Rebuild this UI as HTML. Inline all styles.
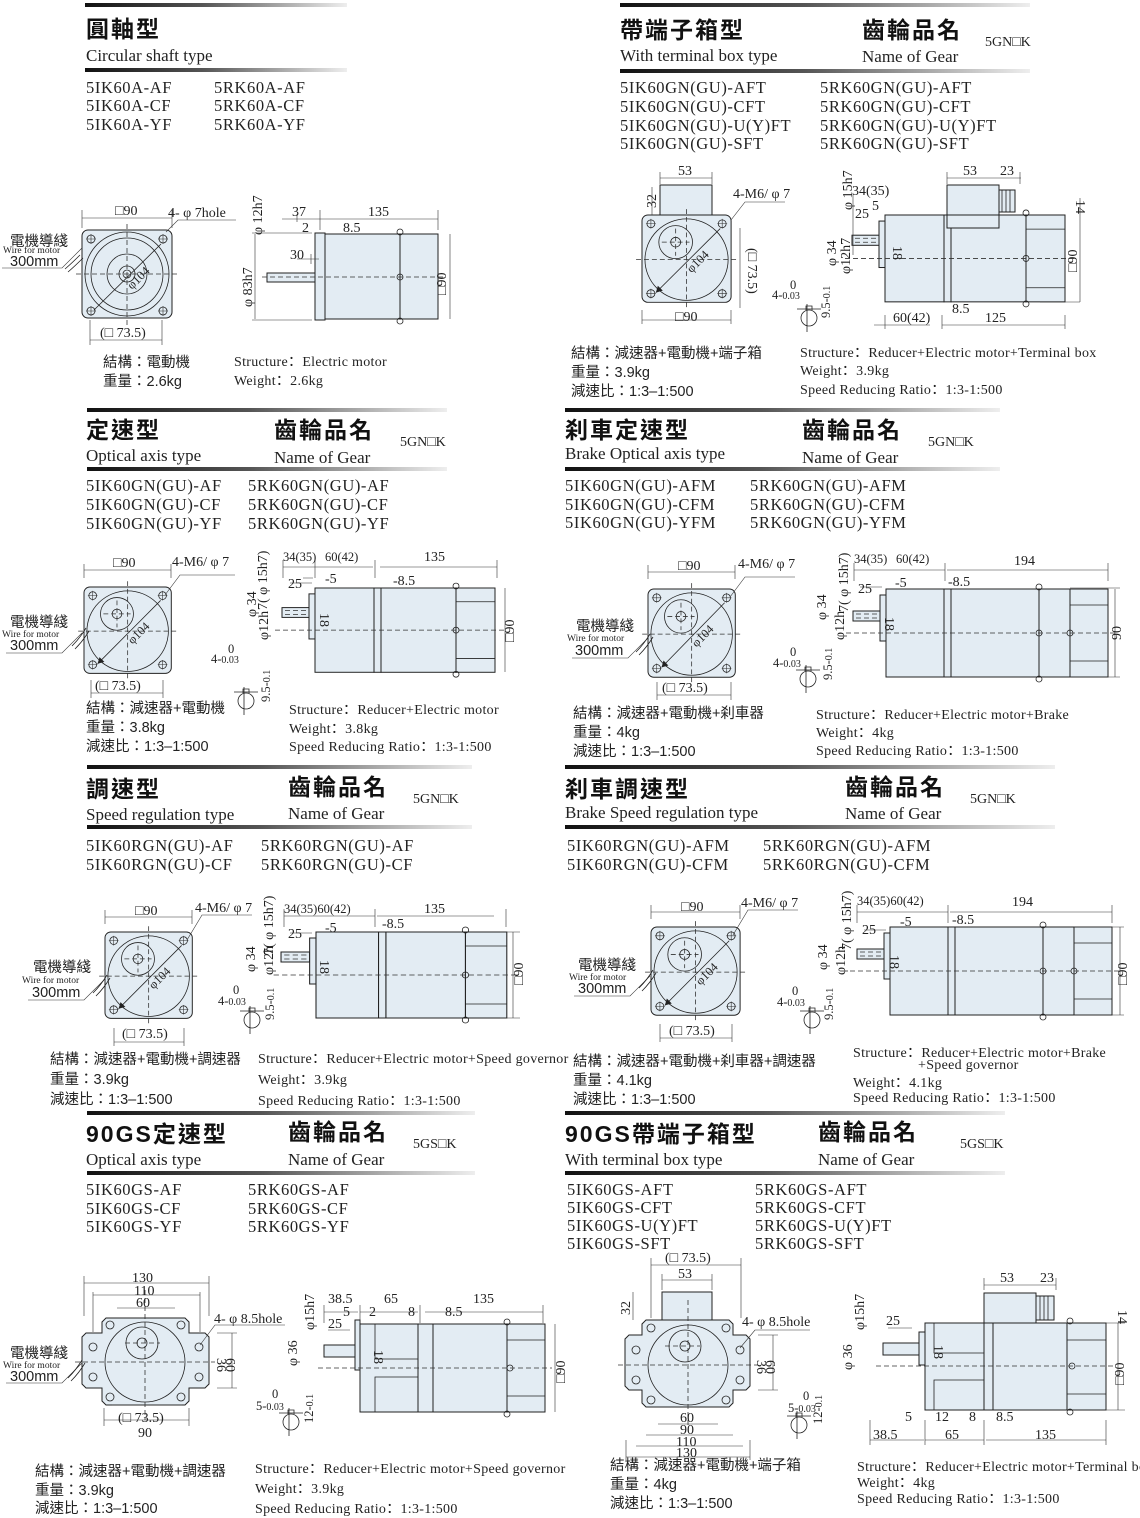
<!DOCTYPE html>
<html><head><meta charset="utf-8"><style>
html,body{margin:0;padding:0;background:#fff}
svg{display:block}
.t{font:700 23px "Liberation Sans","Noto Sans CJK TC",sans-serif;fill:#111;letter-spacing:2px}
.e{font:17px "Liberation Serif",serif;fill:#222}
.m{font:16.5px "Liberation Serif",serif;fill:#222;letter-spacing:.6px}
.c{font:14.5px "Liberation Sans","Noto Sans CJK TC",sans-serif;fill:#222}
.ee{font:14px "Liberation Serif",serif;fill:#222;letter-spacing:.3px}
.k{font:14px "Liberation Serif",serif;fill:#222}
.d{font:12.5px "Liberation Serif",serif;fill:#222}
.w{font:9.5px "Liberation Serif",serif;fill:#222}
.s{fill:#e3ecf3;stroke:#222;stroke-width:1}
.n{fill:none;stroke:#222;stroke-width:.8}
.ds{fill:none;stroke:#333;stroke-width:.8;stroke-dasharray:5 3}
.dm{fill:none;stroke:#333;stroke-width:.6}
</style></head><body>
<svg width="1140" height="1518" viewBox="0 0 1140 1518" xmlns="http://www.w3.org/2000/svg">
<defs>
<linearGradient id="g" x1="0" x2="1"><stop offset="0" stop-color="#111"/><stop offset=".45" stop-color="#555"/><stop offset="1" stop-color="#eee"/></linearGradient>
<g id="holes">
<g><circle cx="9" cy="9" r="4" class="n"/><path d="M4 9h10M9 4v10" class="dm"/></g>
<g><circle cx="81" cy="9" r="4" class="n"/><path d="M76 9h10M81 4v10" class="dm"/></g>
<g><circle cx="9" cy="81" r="4" class="n"/><path d="M4 81h10M9 76v10" class="dm"/></g>
<g><circle cx="81" cy="81" r="4" class="n"/><path d="M76 81h10M81 76v10" class="dm"/></g>
</g>
<g id="fgn">
<rect x="0" y="0" width="90" height="90" rx="6" class="s"/>
<circle cx="45" cy="46" r="42" class="n"/>
<circle cx="34" cy="28" r="17" class="n"/>
<circle cx="34" cy="28" r="5" class="n"/>
<use href="#holes"/>
<path d="M-6 46H96M45 -6V96M20 28H48M34 14V42" class="ds"/>
<path d="M14 80L79 14" class="n"/><path d="M14 80l2-7 5 5z" fill="#222"/>
<text class="d" transform="translate(50,60) rotate(-45)">φ104</text>
</g>
<g id="fcs">
<rect x="0" y="0" width="90" height="88" rx="6" class="s"/>
<circle cx="45" cy="44" r="42" class="n"/>
<circle cx="45" cy="44" r="36" class="n"/>
<circle cx="45" cy="44" r="20" class="n"/>
<circle cx="45" cy="44" r="8" class="n"/><circle cx="45" cy="44" r="4" class="n"/>
<use href="#holes"/>
<path d="M-6 44H96M45 -6V96" class="ds"/>
<path d="M12 80L79 14" class="n"/>
<text class="d" transform="translate(50,60) rotate(-45)">φ104</text>
</g>
<g id="sgn">
<rect x="-33" y="20" width="27" height="10" class="s"/>
<path d="M-30 23h22M-30 27h22" class="ds"/>
<rect x="-6" y="6" width="6" height="46" class="s"/>
<rect x="0" y="0" width="59" height="86" class="s"/>
<rect x="59" y="0" width="7" height="86" class="s"/>
<rect x="66" y="0" width="75" height="86" class="s"/>
<rect x="141" y="0" width="39" height="86" class="s"/>
<path d="M141 14h39M141 72h39" class="n"/>
<circle cx="141" cy="-2" r="3" class="n"/><circle cx="141" cy="88" r="3" class="n"/><circle cx="141" cy="43" r="3" class="n"/>
<path d="M-40 43H190" class="ds"/>
</g>
<g id="sbr">
<rect x="-33" y="22" width="27" height="10" class="s"/>
<path d="M-30 25h22M-30 29h22" class="ds"/>
<rect x="-6" y="6" width="6" height="46" class="s"/>
<rect x="0" y="0" width="58" height="88" class="s"/>
<rect x="58" y="0" width="7" height="88" class="s"/>
<rect x="65" y="0" width="88" height="88" class="s"/>
<rect x="153" y="0" width="31" height="88" class="s"/>
<rect x="184" y="0" width="38" height="88" class="s"/>
<path d="M184 16h38M184 72h38" class="n"/>
<circle cx="153" cy="-2" r="3" class="n"/><circle cx="153" cy="90" r="3" class="n"/><circle cx="153" cy="44" r="3" class="n"/><circle cx="184" cy="44" r="3" class="n"/>
<path d="M-40 44H230" class="ds"/>
</g>
<g id="key"><circle cx="0" cy="0" r="8" class="n"/><path d="M-3 -8v-4h6v4M-12 -9h24M-2 -14v28" class="n"/></g>
</defs>

<rect x="85" y="3" width="262" height="4" fill="url(#g)"/>
<rect x="85" y="68" width="262" height="4" fill="url(#g)"/>
<rect x="620" y="3" width="410" height="4" fill="url(#g)"/>
<rect x="620" y="69" width="410" height="4" fill="url(#g)"/>
<rect x="87" y="408" width="360" height="4" fill="url(#g)"/>
<rect x="87" y="467" width="360" height="4" fill="url(#g)"/>
<rect x="565" y="408" width="435" height="4" fill="url(#g)"/>
<rect x="565" y="467" width="435" height="4" fill="url(#g)"/>
<rect x="87" y="765" width="385" height="4" fill="url(#g)"/>
<rect x="87" y="825" width="385" height="4" fill="url(#g)"/>
<rect x="565" y="765" width="490" height="4" fill="url(#g)"/>
<rect x="565" y="825" width="490" height="4" fill="url(#g)"/>
<rect x="87" y="1111" width="388" height="4" fill="url(#g)"/>
<rect x="87" y="1171" width="388" height="4" fill="url(#g)"/>
<rect x="565" y="1111" width="440" height="4" fill="url(#g)"/>
<rect x="565" y="1171" width="440" height="4" fill="url(#g)"/>

<!-- S1 left -->
<text class="t" x="86" y="37">圓軸型</text>
<text class="e" x="86" y="61">Circular shaft type</text>
<text class="m" x="86" y="93">5IK60A-AF</text><text class="m" x="214" y="93">5RK60A-AF</text>
<text class="m" x="86" y="111">5IK60A-CF</text><text class="m" x="214" y="111">5RK60A-CF</text>
<text class="m" x="86" y="130">5IK60A-YF</text><text class="m" x="214" y="130">5RK60A-YF</text>
<use href="#fcs" x="82" y="230"/>
<path d="M82 210v18M172 210v18M82 218h90" class="dm"/><text class="k" x="115" y="215">□90</text>
<path d="M166 232L178 220h58" class="dm"/><text class="k" x="168" y="217">4- φ 7hole</text>
<path d="M90 340h72M90 320v25M162 320v25" class="dm"/><text class="k" x="100" y="337">(□ 73.5)</text>
<text class="c" x="10" y="246">電機導綫</text><text class="w" x="3" y="253">Wire for motor</text>
<text class="c" x="10" y="266">300mm</text>
<path d="M2 268h60l20-20" class="dm"/><path d="M80 255q-8 8-15 14M83 258q-8 8-15 14" class="n"/>
<rect x="267" y="273" width="48" height="9" class="s"/>
<rect x="315" y="233" width="10" height="87" class="s"/>
<rect x="325" y="234" width="75" height="85" class="s"/>
<rect x="400" y="234" width="38" height="85" class="s"/>
<circle cx="400" cy="232" r="3" class="n"/><circle cx="400" cy="321" r="3" class="n"/><circle cx="400" cy="277" r="3" class="n"/>
<path d="M262 277H445" class="ds"/>
<path d="M282 219h38M320 210v20M438 210v20M320 219h118M297 222v-8M297 259h22M311 254v10M255 234v85M450 234v85M252 233h60M252 320h60" class="dm"/>
<text class="k" x="292" y="216">37</text><text class="k" x="368" y="216">135</text>
<text class="k" x="302" y="232">2</text><text class="k" x="343" y="232">8.5</text><text class="k" x="290" y="259">30</text>
<text class="k" transform="translate(262,235) rotate(-90)">φ 12h7</text>
<text class="k" transform="translate(252,307) rotate(-90)">φ 83h7</text>
<text class="k" transform="translate(446,295) rotate(-90)">□90</text>
<text class="c" x="103" y="367">結構：電動機</text>
<text class="c" x="103" y="386">重量：2.6kg</text>
<text class="ee" x="234" y="366">Structure：Electric motor</text>
<text class="ee" x="234" y="385">Weight：2.6kg</text>

<!-- S1 right -->
<text class="t" x="620" y="38">帶端子箱型</text>
<text class="t" x="862" y="38">齒輪品名</text>
<text class="k" x="985" y="46">5GN□K</text>
<text class="e" x="620" y="61">With terminal box type</text>
<text class="e" x="862" y="62">Name of Gear</text>
<text class="m" x="620" y="93">5IK60GN(GU)-AFT</text><text class="m" x="820" y="93">5RK60GN(GU)-AFT</text>
<text class="m" x="620" y="112">5IK60GN(GU)-CFT</text><text class="m" x="820" y="112">5RK60GN(GU)-CFT</text>
<text class="m" x="620" y="131">5IK60GN(GU)-U(Y)FT</text><text class="m" x="820" y="131">5RK60GN(GU)-U(Y)FT</text>
<text class="m" x="620" y="149">5IK60GN(GU)-SFT</text><text class="m" x="820" y="149">5RK60GN(GU)-SFT</text>
<rect x="660" y="185" width="52" height="30" class="s"/>
<use href="#fgn" transform="translate(642,215) scale(0.99,0.97)"/>
<path d="M660 178h52M660 172v12M712 172v12M642 320h89M642 310v14M731 310v14M740 228v80M652 187v28" class="dm"/>
<text class="k" x="678" y="175">53</text><text class="k" x="675" y="321">□90</text>
<text class="k" transform="translate(656,208) rotate(-90)">32</text>
<text class="k" transform="translate(748,248) rotate(90)">(□ 73.5)</text>
<path d="M731 220L745 202h40" class="dm"/><text class="k" x="733" y="198">4-M6/ φ 7</text>
<use href="#key" x="809" y="318"/>
<text class="d" x="772" y="299">4-<tspan font-size="10">0.03</tspan></text><text class="d" x="790" y="289" font-size="10">0</text>
<text class="d" transform="translate(830,318) rotate(-90)">9.5-<tspan font-size="10">0.1</tspan></text>
<rect x="947" y="185" width="52" height="30" class="s"/>
<rect x="999" y="190" width="16" height="22" class="s"/>
<path d="M1002 190v22M1006 190v22M1010 190v22" class="n"/>
<use href="#sgn" transform="translate(885,215) scale(1,1.01)"/>
<rect x="947" y="215" width="52" height="13" class="s"/>
<path d="M947 178h52M999 178h22M947 172v12M1020 172v12M1080 198v104M1040 302h40M874 325h56M942 325h123M885 315v14M942 315v14M1065 315v14M853 195v60" class="dm"/>
<text class="k" x="963" y="175">53</text><text class="k" x="1000" y="175">23</text>
<text class="k" x="852" y="195">34(35)</text><text class="k" x="855" y="218">25</text><text class="k" x="872" y="210">5</text>
<text class="k" transform="translate(1076,200) rotate(90)">14</text>
<text class="k" transform="translate(1077,272) rotate(-90)">□90</text>
<text class="k" x="893" y="322">60(42)</text><text class="k" x="985" y="322">125</text><text class="k" x="952" y="313">8.5</text>
<text class="k" transform="translate(852,210) rotate(-90)">φ 15h7</text>
<text class="k" transform="translate(836,266) rotate(-90)">φ 34</text>
<text class="k" transform="translate(850,274) rotate(-90)">φ12h7</text>
<text class="k" transform="translate(893,246) rotate(90)">18</text>
<text class="c" x="571" y="358">結構：減速器+電動機+端子箱</text>
<text class="c" x="571" y="377">重量：3.9kg</text>
<text class="c" x="571" y="396">減速比：1:3–1:500</text>
<text class="ee" x="800" y="357">Structure：Reducer+Electric motor+Terminal box</text>
<text class="ee" x="800" y="375">Weight：3.9kg</text>
<text class="ee" x="800" y="394">Speed Reducing Ratio：1:3-1:500</text>

<!-- S2 left -->
<text class="t" x="86" y="438">定速型</text>
<text class="t" x="274" y="438">齒輪品名</text>
<text class="k" x="400" y="446">5GN□K</text>
<text class="e" x="86" y="461">Optical axis type</text>
<text class="e" x="274" y="463">Name of Gear</text>
<text class="m" x="86" y="491">5IK60GN(GU)-AF</text><text class="m" x="248" y="491">5RK60GN(GU)-AF</text>
<text class="m" x="86" y="510">5IK60GN(GU)-CF</text><text class="m" x="248" y="510">5RK60GN(GU)-CF</text>
<text class="m" x="86" y="529">5IK60GN(GU)-YF</text><text class="m" x="248" y="529">5RK60GN(GU)-YF</text>
<use href="#fgn" transform="translate(84,587) scale(0.97,0.96)"/>
<path d="M84 570h87M84 564v14M171 564v14M91 693h72M91 680v18M163 680v18" class="dm"/>
<text class="k" x="113" y="567">□90</text><text class="k" x="95" y="690">(□ 73.5)</text>
<path d="M165 595L180 575h55" class="dm"/><text class="k" x="172" y="566">4-M6/ φ 7</text>
<text class="c" x="10" y="627">電機導綫</text><text class="w" x="2" y="637">Wire for motor</text>
<text class="c" x="10" y="650">300mm</text>
<path d="M6 653h56l20-20" class="dm"/><path d="M86 628q-6 10-14 18M89 631q-6 10-14 18" class="n"/>
<use href="#sgn" transform="translate(315,588) scale(1,0.98)"/>
<path d="M283 567h32M315 567h58M380 567h117M283 560v18M315 560v18M375 560v18M497 560v18M505 588v84M290 583h22M303 578h10" class="dm"/>
<text class="d" x="283" y="561" font-size="11">34(35)</text><text class="d" x="325" y="561">60(42)</text><text class="k" x="424" y="561">135</text>
<text class="k" x="288" y="588">25</text><text class="k" x="325" y="583">-5</text><text class="k" x="393" y="585">-8.5</text>
<text class="k" transform="translate(267,610) rotate(-90)">7( φ 15h7)</text>
<text class="k" transform="translate(256,617) rotate(-90)">φ 34</text>
<text class="k" transform="translate(268,640) rotate(-90)">φ12h</text>
<text class="k" transform="translate(320,613) rotate(90)">18</text>
<text class="k" transform="translate(514,642) rotate(-90)">□90</text>
<use href="#key" x="246" y="701"/>
<text class="d" x="211" y="663">4-<tspan font-size="10">0.03</tspan></text><text class="d" x="228" y="653" font-size="10">0</text>
<text class="d" transform="translate(270,702) rotate(-90)">9.5-<tspan font-size="10">0.1</tspan></text>
<text class="c" x="86" y="713">結構：減速器+電動機</text>
<text class="c" x="86" y="732">重量：3.8kg</text>
<text class="c" x="86" y="751">減速比：1:3–1:500</text>
<text class="ee" x="289" y="714">Structure：Reducer+Electric motor</text>
<text class="ee" x="289" y="733">Weight：3.8kg</text>
<text class="ee" x="289" y="751">Speed Reducing Ratio：1:3-1:500</text>

<!-- S2 right -->
<text class="t" x="565" y="438">刹車定速型</text>
<text class="t" x="802" y="438">齒輪品名</text>
<text class="k" x="928" y="446">5GN□K</text>
<text class="e" x="565" y="459">Brake Optical axis type</text>
<text class="e" x="802" y="463">Name of Gear</text>
<text class="m" x="565" y="491">5IK60GN(GU)-AFM</text><text class="m" x="750" y="491">5RK60GN(GU)-AFM</text>
<text class="m" x="565" y="510">5IK60GN(GU)-CFM</text><text class="m" x="750" y="510">5RK60GN(GU)-CFM</text>
<text class="m" x="565" y="528">5IK60GN(GU)-YFM</text><text class="m" x="750" y="528">5RK60GN(GU)-YFM</text>
<use href="#fgn" transform="translate(648,589) scale(0.97,0.98)"/>
<path d="M648 572h87M648 565v14M735 565v14M657 695h74M657 682v18M731 682v18" class="dm"/>
<text class="k" x="678" y="570">□90</text><text class="k" x="662" y="692">(□ 73.5)</text>
<path d="M730 597L745 577h50" class="dm"/><text class="k" x="738" y="568">4-M6/ φ 7</text>
<text class="c" x="576" y="631">電機導綫</text><text class="w" x="567" y="641">Wire for motor</text>
<text class="c" x="575" y="655">300mm</text>
<path d="M572 658h56l20-20" class="dm"/><path d="M650 634q-6 10-14 18M653 637q-6 10-14 18" class="n"/>
<use href="#sbr" transform="translate(886,589)"/>
<path d="M854 570h32M886 570h59M947 570h161M854 563v18M945 563v18M1108 563v18M1115 589v88M860 587h22M1070 588h50M1070 677h50" class="dm"/>
<text class="d" x="854" y="563" font-size="11">34(35)</text><text class="d" x="896" y="563">60(42)</text><text class="k" x="1014" y="565">194</text>
<text class="k" x="858" y="593">25</text><text class="k" x="895" y="587">-5</text><text class="k" x="948" y="586">-8.5</text>
<text class="k" transform="translate(848,612) rotate(-90)">7( φ 15h7)</text>
<text class="k" transform="translate(826,620) rotate(-90)">φ 34</text>
<text class="k" transform="translate(844,640) rotate(-90)">φ12h</text>
<text class="k" transform="translate(885,617) rotate(90)">18</text>
<text class="k" transform="translate(1121,640) rotate(-90)">90</text>
<use href="#key" x="808" y="679"/>
<text class="d" x="773" y="667">4-<tspan font-size="10">0.03</tspan></text><text class="d" x="790" y="656" font-size="10">0</text>
<text class="d" transform="translate(832,680) rotate(-90)">9.5-<tspan font-size="10">0.1</tspan></text>
<text class="c" x="573" y="718">結構：減速器+電動機+刹車器</text>
<text class="c" x="573" y="737">重量：4kg</text>
<text class="c" x="573" y="756">減速比：1:3–1:500</text>
<text class="ee" x="816" y="719">Structure：Reducer+Electric motor+Brake</text>
<text class="ee" x="816" y="737">Weight：4kg</text>
<text class="ee" x="816" y="755">Speed Reducing Ratio：1:3-1:500</text>

<!-- S3 left -->
<text class="t" x="86" y="797">調速型</text>
<text class="t" x="288" y="795">齒輪品名</text>
<text class="k" x="413" y="803">5GN□K</text>
<text class="e" x="86" y="820">Speed regulation type</text>
<text class="e" x="288" y="819">Name of Gear</text>
<text class="m" x="86" y="851">5IK60RGN(GU)-AF</text><text class="m" x="261" y="851">5RK60RGN(GU)-AF</text>
<text class="m" x="86" y="870">5IK60RGN(GU)-CF</text><text class="m" x="261" y="870">5RK60RGN(GU)-CF</text>
<use href="#fgn" transform="translate(105,932) scale(0.97,0.96)"/>
<path d="M105 917h87M105 910v14M192 910v14M114 1042h70M114 1028v18M184 1028v18" class="dm"/>
<text class="k" x="135" y="915">□90</text><text class="k" x="122" y="1038">(□ 73.5)</text>
<path d="M187 940L202 915h50" class="dm"/><text class="k" x="195" y="912">4-M6/ φ 7</text>
<text class="c" x="33" y="972">電機導綫</text><text class="w" x="22" y="983">Wire for motor</text>
<text class="c" x="32" y="997">300mm</text>
<path d="M28 1000h56l20-20" class="dm"/><path d="M107 975q-6 10-14 18M110 978q-6 10-14 18" class="n"/>
<use href="#sgn" transform="translate(316,932) scale(1.06,1)"/>
<path d="M284 916h32M316 916h59M377 916h117M284 909v18M375 909v18M506 909v18M513 932v86M290 933h22M500 932h20M500 1018h20" class="dm"/>
<text class="d" x="284" y="913">34(35)60(42)</text><text class="k" x="424" y="913">135</text>
<text class="k" x="288" y="938">25</text><text class="k" x="325" y="932">-5</text><text class="k" x="382" y="928">-8.5</text>
<text class="k" transform="translate(273,955) rotate(-90)">7( φ 15h7)</text>
<text class="k" transform="translate(255,972) rotate(-90)">φ 34</text>
<text class="k" transform="translate(273,975) rotate(-90)">φ12h</text>
<text class="k" transform="translate(320,960) rotate(90)">18</text>
<text class="k" transform="translate(523,985) rotate(-90)">□90</text>
<use href="#key" x="252" y="1020"/>
<text class="d" x="218" y="1005">4-<tspan font-size="10">0.03</tspan></text><text class="d" x="233" y="994" font-size="10">0</text>
<text class="d" transform="translate(274,1020) rotate(-90)">9.5-<tspan font-size="10">0.1</tspan></text>
<text class="c" x="50" y="1064">結構：減速器+電動機+調速器</text>
<text class="c" x="50" y="1084">重量：3.9kg</text>
<text class="c" x="50" y="1104">減速比：1:3–1:500</text>
<text class="ee" x="258" y="1063" font-size="12.5">Structure：Reducer+Electric motor+Speed governor</text>
<text class="ee" x="258" y="1084" font-size="12.5">Weight：3.9kg</text>
<text class="ee" x="258" y="1105" font-size="12.5">Speed Reducing Ratio：1:3-1:500</text>

<!-- S3 right -->
<text class="t" x="565" y="797">刹車調速型</text>
<text class="t" x="845" y="795">齒輪品名</text>
<text class="k" x="970" y="803">5GN□K</text>
<text class="e" x="565" y="818">Brake Speed regulation type</text>
<text class="e" x="845" y="819">Name of Gear</text>
<text class="m" x="567" y="851">5IK60RGN(GU)-AFM</text><text class="m" x="763" y="851">5RK60RGN(GU)-AFM</text>
<text class="m" x="567" y="870">5IK60RGN(GU)-CFM</text><text class="m" x="763" y="870">5RK60RGN(GU)-CFM</text>
<use href="#fgn" transform="translate(651,927) scale(0.99,0.98)"/>
<path d="M651 912h89M651 905v14M740 905v14M660 1038h72M660 1024v18M732 1024v18" class="dm"/>
<text class="k" x="681" y="911">□90</text><text class="k" x="669" y="1035">(□ 73.5)</text>
<path d="M733 935L748 910h50" class="dm"/><text class="k" x="741" y="907">4-M6/ φ 7</text>
<text class="c" x="578" y="970">電機導綫</text><text class="w" x="569" y="980">Wire for motor</text>
<text class="c" x="578" y="993">300mm</text>
<path d="M574 996h56l20-20" class="dm"/><path d="M653 970q-6 10-14 18M656 973q-6 10-14 18" class="n"/>
<use href="#sbr" transform="translate(890,927) scale(1,1)"/>
<path d="M857 912h32M889 912h59M950 912h162M857 905v18M948 905v18M1112 905v18M1120 927v88M864 930h22M1074 927h50M1074 1015h50" class="dm"/>
<text class="d" x="857" y="905">34(35)60(42)</text><text class="k" x="1012" y="906">194</text>
<text class="k" x="862" y="934">25</text><text class="k" x="900" y="926">-5</text><text class="k" x="952" y="924">-8.5</text>
<text class="k" transform="translate(851,950) rotate(-90)">7( φ 15h7)</text>
<text class="k" transform="translate(827,970) rotate(-90)">φ 34</text>
<text class="k" transform="translate(845,975) rotate(-90)">φ12h</text>
<text class="k" transform="translate(890,955) rotate(90)">18</text>
<text class="k" transform="translate(1127,985) rotate(-90)">□90</text>
<use href="#key" x="812" y="1020"/>
<text class="d" x="777" y="1006">4-<tspan font-size="10">0.03</tspan></text><text class="d" x="792" y="995" font-size="10">0</text>
<text class="d" transform="translate(833,1020) rotate(-90)">9.5-<tspan font-size="10">0.1</tspan></text>
<text class="c" x="573" y="1066">結構：減速器+電動機+刹車器+調速器</text>
<text class="c" x="573" y="1085">重量：4.1kg</text>
<text class="c" x="573" y="1104">減速比：1:3–1:500</text>
<text class="ee" x="853" y="1057" font-size="12">Structure：Reducer+Electric motor+Brake</text>
<text class="ee" x="918" y="1069" font-size="12">+Speed governor</text>
<text class="ee" x="853" y="1087" font-size="12">Weight：4.1kg</text>
<text class="ee" x="853" y="1102" font-size="12">Speed Reducing Ratio：1:3-1:500</text>

<!-- S4 left -->
<text class="t" x="86" y="1142">90GS定速型</text>
<text class="t" x="288" y="1140">齒輪品名</text>
<text class="k" x="413" y="1148">5GS□K</text>
<text class="e" x="86" y="1165">Optical axis type</text>
<text class="e" x="288" y="1165">Name of Gear</text>
<text class="m" x="86" y="1195">5IK60GS-AF</text><text class="m" x="248" y="1195">5RK60GS-AF</text>
<text class="m" x="86" y="1214">5IK60GS-CF</text><text class="m" x="248" y="1214">5RK60GS-CF</text>
<text class="m" x="86" y="1232">5IK60GS-YF</text><text class="m" x="248" y="1232">5RK60GS-YF</text>
<path d="M106 1318h79l4 4v11h16l4 4v47l-4 4h-16v13l-4 4h-79l-4-4v-13h-16l-4-4v-47l4-4h16v-11z" class="s"/>
<circle cx="145" cy="1362" r="40" class="n"/>
<circle cx="142" cy="1343" r="16" class="n"/><circle cx="142" cy="1343" r="5" class="n"/>
<g class="n"><circle cx="93" cy="1347" r="4"/><circle cx="199" cy="1347" r="4"/><circle cx="93" cy="1377" r="4"/><circle cx="199" cy="1377" r="4"/><circle cx="110" cy="1325" r="4"/><circle cx="181" cy="1325" r="4"/><circle cx="110" cy="1397" r="4"/><circle cx="181" cy="1397" r="4"/></g>
<path d="M75 1362H215M145 1290V1420M125 1343h35" class="ds"/>
<path d="M84 1283h125M93 1295h107M117 1308h58M84 1276v40M209 1276v40M93 1292v40M200 1292v40M104 1420h85M104 1408v18M189 1408v18M112 1405h70M217 1333h20M217 1388h20M232 1333v55" class="dm"/>
<text class="k" x="132" y="1282">130</text><text class="k" x="134" y="1295">110</text><text class="k" x="136" y="1307">60</text>
<text class="k" x="138" y="1437">90</text><text class="k" x="118" y="1422">(□ 73.5)</text>
<path d="M200 1345L215 1325h70" class="dm"/><text class="k" x="214" y="1323">4- φ 8.5hole</text>
<text class="k" transform="translate(217,1358) rotate(90)">36</text><text class="k" transform="translate(226,1358) rotate(90)">60</text>
<text class="c" x="10" y="1358">電機導綫</text><text class="w" x="3" y="1368">Wire for motor</text>
<text class="c" x="10" y="1381">300mm</text>
<path d="M6 1383h56l20-20" class="dm"/><path d="M82 1360q-6 10-14 18M85 1363q-6 10-14 18" class="n"/>
<rect x="324" y="1345" width="31" height="12" class="s"/>
<rect x="355" y="1320" width="5" height="50" class="s"/>
<rect x="360" y="1324" width="58" height="88" class="s"/>
<path d="M375 1324v35h43M375 1412v-35h43" class="n"/>
<rect x="418" y="1324" width="15" height="88" class="s"/>
<rect x="433" y="1324" width="74" height="88" class="s"/>
<rect x="507" y="1324" width="38" height="88" class="s"/>
<path d="M507 1340h38M507 1396h38" class="n"/>
<circle cx="507" cy="1322" r="3" class="n"/><circle cx="507" cy="1414" r="3" class="n"/><circle cx="510" cy="1368" r="3" class="n"/>
<path d="M318 1368H552" class="ds"/>
<path d="M324 1312h34M360 1312h58M425 1312h118M328 1330h22M324 1305v18M360 1305v18M420 1305v18M543 1305v18M555 1324v88" class="dm"/>
<text class="k" x="328" y="1303">38.5</text><text class="k" x="384" y="1303">65</text><text class="k" x="473" y="1303">135</text>
<text class="k" x="343" y="1316">5</text><text class="k" x="369" y="1316">2</text><text class="k" x="408" y="1316">8</text><text class="k" x="445" y="1316">8.5</text><text class="k" x="328" y="1328">25</text>
<text class="k" transform="translate(314,1330) rotate(-90)">φ15h7</text>
<text class="k" transform="translate(297,1366) rotate(-90)">φ 36</text>
<text class="k" transform="translate(374,1350) rotate(90)">18</text>
<text class="k" transform="translate(565,1383) rotate(-90)">□90</text>
<use href="#key" x="291" y="1422"/>
<text class="d" x="256" y="1410">5-<tspan font-size="10">0.03</tspan></text><text class="d" x="272" y="1398" font-size="10">0</text>
<text class="d" transform="translate(313,1423) rotate(-90)">12-<tspan font-size="10">0.1</tspan></text>
<text class="c" x="35" y="1476">結構：減速器+電動機+調速器</text>
<text class="c" x="35" y="1495">重量：3.9kg</text>
<text class="c" x="35" y="1513">減速比：1:3–1:500</text>
<text class="ee" x="255" y="1473" font-size="12.5">Structure：Reducer+Electric motor+Speed governor</text>
<text class="ee" x="255" y="1493" font-size="12.5">Weight：3.9kg</text>
<text class="ee" x="255" y="1513" font-size="12.5">Speed Reducing Ratio：1:3-1:500</text>

<!-- S4 right -->
<text class="t" x="565" y="1142">90GS帶端子箱型</text>
<text class="t" x="818" y="1140">齒輪品名</text>
<text class="k" x="960" y="1148">5GS□K</text>
<text class="e" x="565" y="1165">With terminal box type</text>
<text class="e" x="818" y="1165">Name of Gear</text>
<text class="m" x="567" y="1195">5IK60GS-AFT</text><text class="m" x="755" y="1195">5RK60GS-AFT</text>
<text class="m" x="567" y="1213">5IK60GS-CFT</text><text class="m" x="755" y="1213">5RK60GS-CFT</text>
<text class="m" x="567" y="1231">5IK60GS-U(Y)FT</text><text class="m" x="755" y="1231">5RK60GS-U(Y)FT</text>
<text class="m" x="567" y="1249">5IK60GS-SFT</text><text class="m" x="755" y="1249">5RK60GS-SFT</text>
<rect x="662" y="1292" width="50" height="28" class="s"/>
<path d="M646 1320h83l4 4v11h13l4 4v47l-4 4h-13v13l-4 4h-83l-4-4v-13h-13l-4-4v-47l4-4h13v-11z" class="s"/>
<circle cx="688" cy="1365" r="40" class="n"/>
<circle cx="685" cy="1346" r="16" class="n"/><circle cx="685" cy="1346" r="5" class="n"/>
<g class="n"><circle cx="636" cy="1350" r="4"/><circle cx="740" cy="1350" r="4"/><circle cx="636" cy="1380" r="4"/><circle cx="740" cy="1380" r="4"/><circle cx="651" cy="1328" r="4"/><circle cx="726" cy="1328" r="4"/><circle cx="651" cy="1400" r="4"/><circle cx="726" cy="1400" r="4"/></g>
<path d="M618 1365H758M688 1300V1425M665 1346h35" class="ds"/>
<path d="M651 1265h90M651 1258v60M741 1258v60M662 1280h50M662 1274v16M712 1274v16M658 1424h60M646 1435h87M636 1446h107M626 1457h124M626 1440v20M750 1440v20M758 1335h20M758 1390h20M773 1335v55M633 1292v28" class="dm"/>
<text class="k" x="665" y="1262">(□ 73.5)</text><text class="k" x="678" y="1278">53</text>
<text class="k" x="680" y="1422">60</text><text class="k" x="680" y="1434">90</text><text class="k" x="676" y="1446">110</text><text class="k" x="676" y="1457">130</text>
<path d="M740 1348L755 1330h55" class="dm"/><text class="k" x="742" y="1326">4- φ 8.5hole</text>
<text class="k" transform="translate(757,1360) rotate(90)">36</text><text class="k" transform="translate(766,1360) rotate(90)">60</text>
<text class="k" transform="translate(630,1315) rotate(-90)">32</text>
<rect x="883" y="1343" width="36" height="12" class="s"/>
<rect x="919" y="1332" width="6" height="33" class="s"/>
<rect x="925" y="1323" width="59" height="87" class="s"/>
<path d="M934 1323v30h50M934 1410v-30h50" class="n"/>
<rect x="984" y="1323" width="9" height="87" class="s"/>
<rect x="993" y="1323" width="74" height="87" class="s"/>
<rect x="1067" y="1323" width="39" height="87" class="s"/>
<path d="M1067 1340h39M1067 1394h39" class="n"/>
<rect x="984" y="1293" width="52" height="30" class="s"/>
<rect x="1036" y="1296" width="18" height="24" class="s"/>
<path d="M1040 1296v24M1044 1296v24M1048 1296v24" class="n"/>
<circle cx="1070" cy="1321" r="3" class="n"/><circle cx="1070" cy="1412" r="3" class="n"/><circle cx="1072" cy="1366" r="3" class="n"/>
<path d="M876 1366H1115" class="ds"/>
<path d="M984 1285h52M1036 1285h20M984 1278v12M1056 1278v12M1118 1323v87M870 1440h54M925 1440h59M986 1440h120M870 1420v25M925 1420v25M984 1420v25M1106 1420v25M888 1328h24M1100 1323h25M1100 1410h25" class="dm"/>
<text class="k" x="1000" y="1282">53</text><text class="k" x="1040" y="1282">23</text>
<text class="k" x="886" y="1325">25</text>
<text class="k" x="873" y="1439">38.5</text><text class="k" x="945" y="1439">65</text><text class="k" x="1035" y="1439">135</text>
<text class="k" x="905" y="1421">5</text><text class="k" x="935" y="1421">12</text><text class="k" x="969" y="1421">8</text><text class="k" x="996" y="1421">8.5</text>
<text class="k" transform="translate(864,1330) rotate(-90)">φ15h7</text>
<text class="k" transform="translate(852,1370) rotate(-90)">φ 36</text>
<text class="k" transform="translate(934,1345) rotate(90)">18</text>
<text class="k" transform="translate(1118,1310) rotate(90)">14</text>
<text class="k" transform="translate(1124,1385) rotate(-90)">□90</text>
<use href="#key" x="799" y="1425"/>
<text class="d" x="788" y="1412">5-<tspan font-size="10">0.03</tspan></text><text class="d" x="803" y="1400" font-size="10">0</text>
<text class="d" transform="translate(822,1424) rotate(-90)">12-<tspan font-size="10">0.1</tspan></text>
<text class="c" x="610" y="1470">結構：減速器+電動機+端子箱</text>
<text class="c" x="610" y="1489">重量：4kg</text>
<text class="c" x="610" y="1508">減速比：1:3–1:500</text>
<text class="ee" x="857" y="1471" font-size="12.5">Structure：Reducer+Electric motor+Terminal box</text>
<text class="ee" x="857" y="1487" font-size="12.5">Weight：4kg</text>
<text class="ee" x="857" y="1503" font-size="12.5">Speed Reducing Ratio：1:3-1:500</text>
</svg>
</body></html>
